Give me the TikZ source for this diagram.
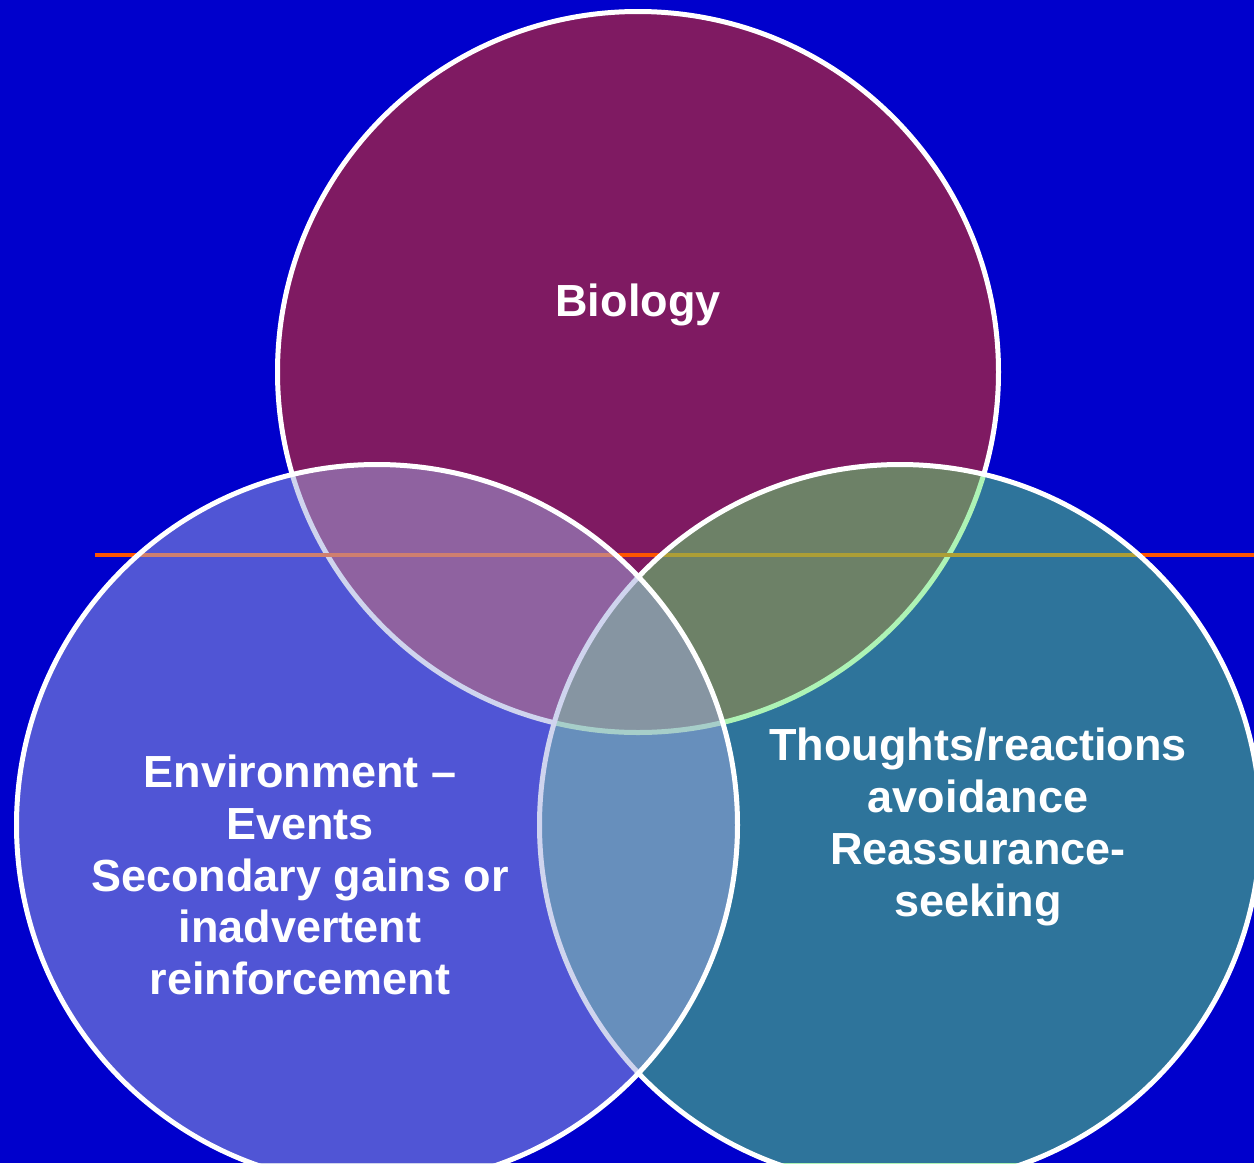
\documentclass[tikz,border=0pt]{standalone}
\usepackage{fontspec}
\setmainfont{Liberation Sans}
\definecolor{bgblue}{RGB}{0,0,204}
\definecolor{biopurple}{RGB}{127,26,98}
\definecolor{envlilac}{RGB}{160,170,222}
\definecolor{thoughtgreen}{RGB}{92,232,108}
\definecolor{ruleorange}{RGB}{255,85,0}
\begin{document}
\begin{tikzpicture}[x=1pt,y=-1pt,
  ring/.style={circle, minimum size=721pt, inner sep=0pt, draw=white, line width=5pt},
  lbl/.style={text=white, font=\fontsize{45}{51.7}\selectfont\bfseries, align=center, inner sep=0pt}]
  % background
  \fill[bgblue] (0,0) rectangle (1254,1163);
  \useasboundingbox (0,0) rectangle (1254,1163);
  \begin{scope}
    \clip (0,0) rectangle (1254,1163);
    % top circle
    \node[ring, fill=biopurple] (bio) at (638,372) {};
    % horizontal rule behind the lower circles
    \coordinate (ruleL) at (95,555);
    \coordinate (ruleR) at (1254,555);
    \draw[ruleorange, line width=4.5pt] (ruleL) -- (ruleR);
    % lower circles, translucent
    \node[ring, fill=thoughtgreen, fill opacity=0.5] (thought) at (900,825) {};
    \node[ring, fill=envlilac, fill opacity=0.5] (env) at (377,825) {};
  \end{scope}
  % captions
  \node[lbl, anchor=base] (biology) at (638,316) {Biology};
  \node[lbl] (thoughts) at (978,827) {Thoughts/reactions\\avoidance\\Reassurance-\\seeking};
  \node[lbl] (environment) at (300,875) {Environment –\\Events\\Secondary gains or\\inadvertent\\reinforcement};
\end{tikzpicture}
\end{document}
